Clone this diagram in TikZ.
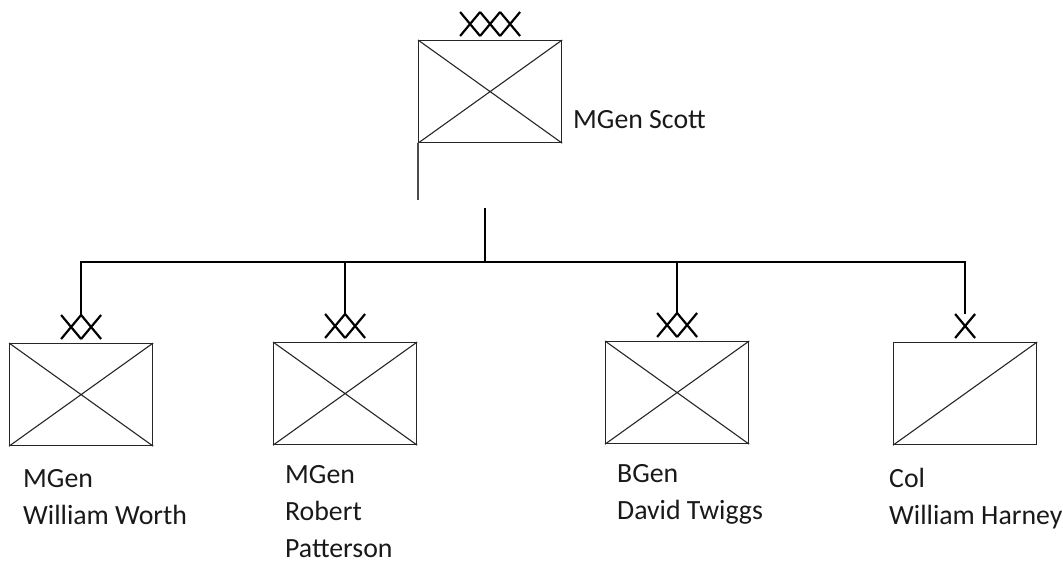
\documentclass[tikz,border=0pt]{standalone}
\usepackage{fontspec}
\setmainfont{Carlito}
\begin{document}
\begin{tikzpicture}[x=1pt,y=-1pt,
  unit/.style={draw=black!85,line width=1.2pt,minimum width=143pt,minimum height=102pt,inner sep=0pt,anchor=north west},
  diag/.style={draw=black!85,line width=1.1pt},
  link/.style={line width=2.6pt,line join=miter},
  tail/.style={draw=black!70,line width=1.1pt},
  ech/.style={line width=2.2pt},
  lbl/.style={anchor=base west,align=left,inner sep=0pt,font=\fontsize{27.8}{37}\selectfont,text=black!90},
  xmark/.pic={\draw[ech] (-10,-12)--(10,12) (-10,12)--(10,-12);}
]
\useasboundingbox (0,0) rectangle (1063,564);

% army headquarters
\node[unit] (scott) at (418,40) {};
\draw[diag] (scott.north west)--(scott.south east) (scott.south west)--(scott.north east);
\foreach \dx in {-20,0,20}
  \pic at ([xshift=\dx pt,yshift=16pt]scott.north) {xmark};
\node[lbl] (scottlbl) at (573,129) {MGen Scott};
\coordinate (staff) at (418,200);
\draw[tail] (scott.south west) -- (staff);

% subordinate units
\node[unit] (worth) at (9,343) {};
\node[unit] (patterson) at (273,342) {};
\node[unit] (twiggs) at (605,341) {};
\node[unit] (harney) at (893,342) {};
\foreach \u in {worth,patterson,twiggs}
  \draw[diag] (\u.north west)--(\u.south east) (\u.south west)--(\u.north east);
\draw[diag] (harney.south west)--(harney.north east);

% echelon marks
\foreach \u in {worth,patterson,twiggs}
  \foreach \dx in {-10,10}
    \pic at ([xshift=\dx pt,yshift=16pt]\u.north) {xmark};
\pic at ([yshift=16pt]harney.north) {xmark};

% command lines
\coordinate (hub) at (485,208);
\coordinate (bus) at (485,262);
\coordinate (wtop) at ([yshift=28pt]worth.north);
\coordinate (ptop) at ([yshift=28pt]patterson.north);
\coordinate (ttop) at ([yshift=28pt]twiggs.north);
\coordinate (htop) at ([yshift=28pt]harney.north);
\draw[link] (hub) -- (bus);
\draw[link] (wtop) -- (wtop |- bus) -- (htop |- bus) -- (htop);
\draw[link] (ptop |- bus) -- (ptop);
\draw[link] (ttop |- bus) -- (ttop);

% commanders (base anchor sits on the last line)
\node[lbl] (worthlbl) at (23,524) {MGen\\William Worth};
\node[lbl] (pattersonlbl) at (285,557) {MGen\\Robert\\Patterson};
\node[lbl] (twiggslbl) at (617,519) {BGen\\David Twiggs};
\node[lbl] (harneylbl) at (889,524) {Col\\William Harney};
\end{tikzpicture}
\end{document}
